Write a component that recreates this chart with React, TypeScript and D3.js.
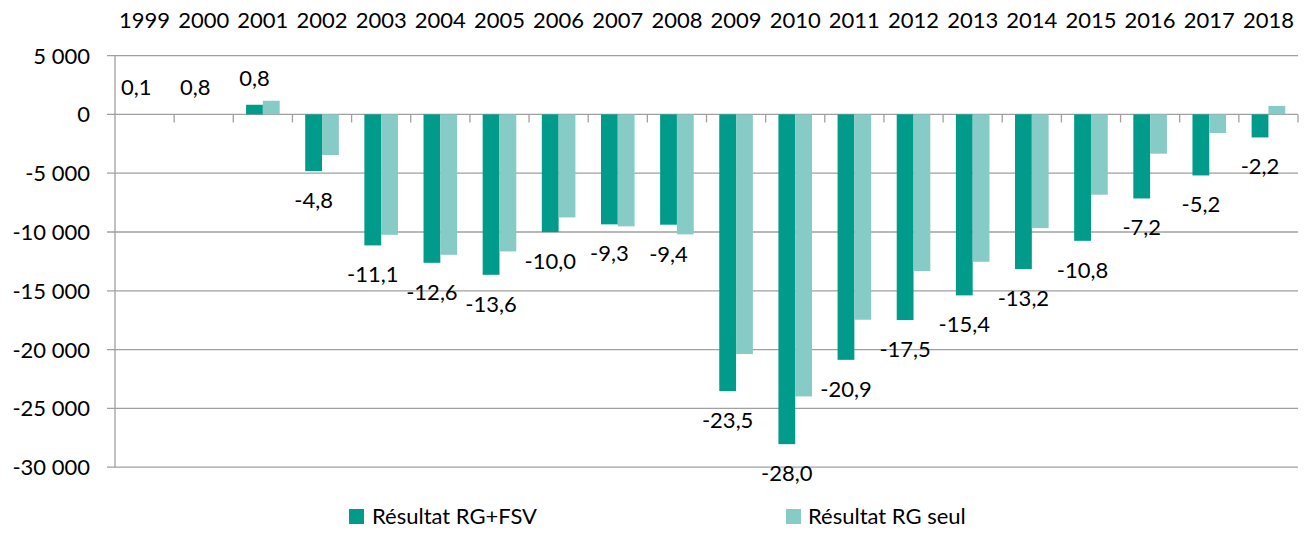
import * as d3 from 'd3'

const W = 1309
const H = 534
const LEFT = 115
const RIGHT = 1298
const FONT = 'Lato, "Open Sans", sans-serif'

const DARK = '#009B8A'
const LIGHT = '#87CBC7'
const GRID = '#A0A0A0'

// années
const years = [
  '1999', '2000', '2001', '2002', '2003', '2004', '2005', '2006', '2007', '2008',
  '2009', '2010', '2011', '2012', '2013', '2014', '2015', '2016', '2017', '2018',
]

// Résultat RG+FSV (M€)
const rgFsv = [
  0, 0, 820, -4820, -11140, -12620, -13640, -10010, -9350, -9380,
  -23530, -28040, -20870, -17490, -15390, -13150, -10750, -7150, -5190, -1960,
]

// Résultat RG seul (M€)
const rgSeul = [
  0, 0, 1160, -3460, -10240, -11940, -11650, -8760, -9520, -10200,
  -20380, -23980, -17460, -13320, -12530, -9670, -6830, -3340, -1580, 720,
]

// data labels (Md€) shown on the RG+FSV bars
const labels = [
  '0,1', '0,8', '0,8', '-4,8', '-11,1', '-12,6', '-13,6', '-10,0', '-9,3', '-9,4',
  '-23,5', '-28,0', '-20,9', '-17,5', '-15,4', '-13,2', '-10,8', '-7,2', '-5,2', '-2,2',
]

const yTicks = [5000, 0, -5000, -10000, -15000, -20000, -25000, -30000]
const seriesNames = ['Résultat RG+FSV', 'Résultat RG seul']

const fmt = (v: number) => d3.format(',')(v).replace(/,/g, ' ').replace('−', '-')

export default function App() {
  const y = d3.scaleLinear().domain([-30000, 5000]).range([467.2, 55.6])
  const x0 = d3.scaleBand<string>().domain(years).range([LEFT, RIGHT]).padding(0)
  const x1 = d3.scaleBand<string>()
    .domain(seriesNames)
    .range([0, x0.bandwidth()])
    .paddingInner(0)
    .paddingOuter(0.76)
  const bw = x1.bandwidth()
  const y0 = y(0)

  const boundaries = years.map((yr) => (x0(yr) as number) + x0.bandwidth())

  return (
    <svg width={W} height={H} style={{ display: 'block', position: 'absolute', left: 0, top: 0 }}
      fontFamily={FONT} fontSize={22}>
      <rect width={W} height={H} fill="white" />

      {/* gridlines + y labels */}
      {yTicks.map((t) => (
        <g key={t}>
          <line x1={LEFT - 8} x2={RIGHT} y1={y(t)} y2={y(t)} stroke={GRID} strokeWidth={1.3} />
          <text x={90} y={y(t) + 8} textAnchor="end" fill="#000">{fmt(t)}</text>
        </g>
      ))}

      {/* y axis line */}
      <line x1={LEFT} x2={LEFT} y1={y(5000)} y2={y(-30000)} stroke={GRID} strokeWidth={1.3} />

      {/* category tick marks on the zero line */}
      {boundaries.map((bx, i) => (
        <line key={i} x1={bx} x2={bx} y1={y0} y2={y0 + 8} stroke={GRID} strokeWidth={1.3} />
      ))}

      {/* year labels on top */}
      {years.map((yr) => (
        <text key={yr} x={(x0(yr) as number) + x0.bandwidth() / 2} y={28} textAnchor="middle" fill="#000">
          {yr}
        </text>
      ))}

      {/* bars */}
      {years.map((yr, i) => {
        const bx = x0(yr) as number
        const vals = [rgFsv[i], rgSeul[i]]
        return (
          <g key={yr}>
            {vals.map((v, j) => (
              <rect
                key={j}
                x={bx + (x1(seriesNames[j]) as number)}
                y={Math.min(y(v), y0)}
                width={bw}
                height={Math.abs(y(v) - y0)}
                fill={j === 0 ? DARK : LIGHT}
              />
            ))}
          </g>
        )
      })}

      {/* data labels */}
      {years.map((yr, i) => {
        const cx = (x0(yr) as number) + (x1(seriesNames[0]) as number) + bw / 2
        const v = rgFsv[i]
        const ly = v >= 0 ? y(v) - 19 : y(v) + 37
        return (
          <text key={yr} x={cx} y={ly} textAnchor="middle" fill="#000">{labels[i]}</text>
        )
      })}

      {/* legend */}
      <rect x={349} y={509} width={15} height={15} fill={DARK} />
      <text x={372} y={524} fill="#000">{seriesNames[0]}</text>
      <rect x={786} y={509} width={15} height={15} fill={LIGHT} />
      <text x={808} y={524} fill="#000">{seriesNames[1]}</text>
    </svg>
  )
}
